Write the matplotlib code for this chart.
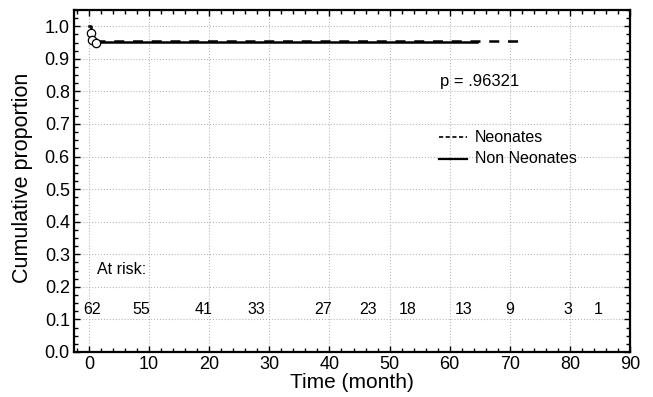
import matplotlib
matplotlib.use("Agg")
import matplotlib.pyplot as plt
from matplotlib.ticker import MultipleLocator

plt.rcParams['font.family'] = ['Liberation Sans', 'DejaVu Sans']

# Data
non_neo_t = [0, 0.3, 0.6, 1.2, 64.5]
non_neo_s = [1.0, 0.975, 0.96, 0.951, 0.951]
neo_t = [1.0, 71.7]
neo_s = [0.955, 0.955]
circ_t = [0.3, 0.45, 1.2]
circ_s = [0.978, 0.958, 0.948]
risk_t = [0.5, 8.7, 19, 27.8, 39, 46.4, 53, 62.4, 70, 79.7, 84.7]
risk_n = [62, 55, 41, 33, 27, 23, 18, 13, 9, 3, 1]
p_text = "p = .96321"

fig = plt.figure(figsize=(6.53, 3.97), dpi=100)
ax = fig.add_axes([74/653, 1-352/397, (630-74)/653, (352-10)/397])

ax.step(non_neo_t, non_neo_s, where='post', color='black', lw=1.8, label='Non Neonates', zorder=3)
ax.plot(neo_t, neo_s, color='black', lw=1.8, ls=(0, (4, 3.5)), label='Neonates', zorder=3)
ax.plot(circ_t, circ_s, 'o', ms=6, mfc='white', mec='black', mew=0.9, zorder=4)

ax.set_xlim(-2.5, 90)
ax.set_ylim(0, 1.05)
ax.xaxis.set_major_locator(MultipleLocator(10))
ax.xaxis.set_minor_locator(MultipleLocator(2))
ax.yaxis.set_major_locator(MultipleLocator(0.1))
ax.yaxis.set_minor_locator(MultipleLocator(0.025))
ax.set_yticks([i / 10 for i in range(11)])
ax.set_yticklabels([f"{i / 10:.1f}" for i in range(11)])
ax.tick_params(which='both', direction='in', top=True, right=True, labelsize=13, width=1)
ax.tick_params(which='major', length=4, pad=3)
ax.tick_params(which='minor', length=3)
for s in ax.spines.values():
    s.set_linewidth(1.6)
ax.grid(True, which='major', ls=':', color='#b8b8b8', lw=0.8)

ax.set_xlabel('Time (month)', fontsize=15, labelpad=0)
ax.set_ylabel('Cumulative proportion', fontsize=15.5)
ax.yaxis.set_label_coords(-0.074, 0.51)

fs = 11.5
ax.text(58.4, 0.83, p_text, fontsize=fs + 0.5, va='center', ha='left')

ax.plot([58.2, 62.8], [0.66, 0.66], color='black', lw=1.2, ls=(0, (2.5, 1.5)))
ax.plot([58.2, 62.8], [0.594, 0.594], color='black', lw=1.6)
ax.text(64.2, 0.66, 'Neonates', fontsize=fs, va='center', ha='left')
ax.text(64.2, 0.594, 'Non Neonates', fontsize=fs, va='center', ha='left')

ax.text(1.3, 0.252, 'At risk:', fontsize=fs, va='center', ha='left')
for t, n in zip(risk_t, risk_n):
    ax.text(t, 0.129, str(n), fontsize=fs, va='center', ha='center')

fig.savefig('out.png', dpi=100)
